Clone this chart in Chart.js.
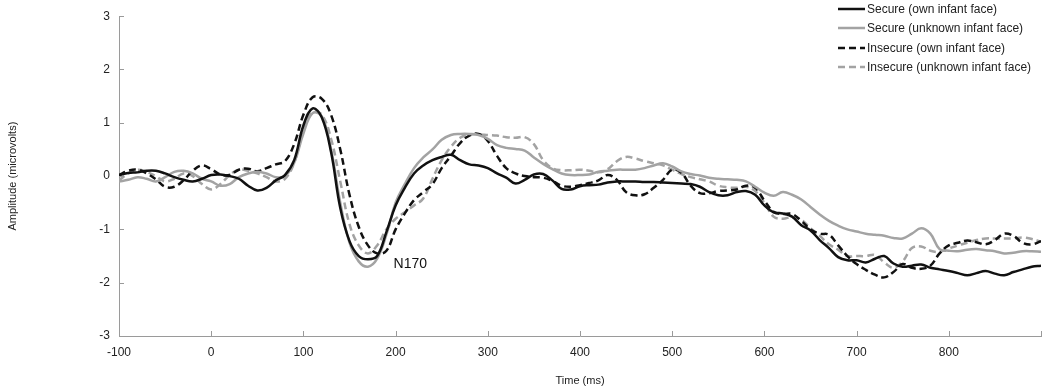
<!DOCTYPE html>
<html>
<head>
<meta charset="utf-8">
<title>ERP waveforms</title>
<script src="https://cdn.jsdelivr.net/npm/chart.js@4"></script>
<style>
  body { margin: 0; background: #fff; }
  #wrap { width: 1050px; height: 389px; }
</style>
</head>
<body>
<div id="wrap"><canvas id="erpChart" width="1050" height="389"></canvas></div>
<script>
// time points (ms)
const times = [-100,-90,-80,-70,-60,-50,-40,-30,-20,-10,
  0,10,20,30,40,50,60,70,80,90,
  100,110,120,130,140,150,160,170,180,190,
  200,210,220,230,240,250,260,270,280,290,
  300,310,320,330,340,350,360,370,380,390,
  400,410,420,430,440,450,460,470,480,490,
  500,510,520,530,540,550,560,570,580,590,
  600,610,620,630,640,650,660,670,680,690,
  700,710,720,730,740,750,760,770,780,790,
  800,810,820,830,840,850,860,870,880,890,900];

// amplitude (microvolts)
const secureOwn = [0.02,0.06,0.07,0.1,0.1,0.05,-0.02,-0.07,-0.1,-0.05,
  0.02,0.03,0.0,-0.05,-0.18,-0.27,-0.22,-0.08,0.02,0.3,
  0.95,1.27,1.1,0.45,-0.6,-1.22,-1.5,-1.56,-1.5,-1.05,
  -0.55,-0.22,0.05,0.2,0.3,0.36,0.4,0.3,0.22,0.2,
  0.15,0.05,-0.03,-0.14,-0.07,0.03,0.04,-0.08,-0.24,-0.25,
  -0.19,-0.17,-0.16,-0.12,-0.1,-0.1,-0.1,-0.11,-0.11,-0.12,
  -0.13,-0.14,-0.15,-0.2,-0.3,-0.36,-0.36,-0.3,-0.28,-0.35,
  -0.55,-0.68,-0.7,-0.76,-0.92,-1.02,-1.2,-1.35,-1.52,-1.58,
  -1.58,-1.62,-1.55,-1.5,-1.64,-1.7,-1.68,-1.66,-1.72,-1.75,
  -1.78,-1.82,-1.86,-1.82,-1.78,-1.83,-1.86,-1.8,-1.75,-1.7,-1.68];

const secureUnknown = [-0.1,-0.07,-0.02,-0.05,-0.1,-0.02,0.08,0.1,0.05,-0.05,
  -0.1,-0.18,-0.15,-0.02,0.05,0.08,0.05,-0.02,0.0,0.25,
  0.8,1.18,1.12,0.5,-0.5,-1.25,-1.6,-1.7,-1.55,-1.1,
  -0.5,-0.15,0.15,0.35,0.5,0.68,0.77,0.79,0.79,0.77,
  0.7,0.58,0.53,0.51,0.48,0.35,0.23,0.13,0.05,0.02,
  0.02,0.03,0.08,0.1,0.12,0.12,0.12,0.15,0.2,0.24,
  0.18,0.09,0.04,0.01,-0.03,-0.05,-0.06,-0.07,-0.1,-0.2,
  -0.31,-0.37,-0.3,-0.35,-0.44,-0.58,-0.72,-0.84,-0.93,-1.0,
  -1.04,-1.08,-1.1,-1.12,-1.16,-1.17,-1.08,-0.98,-1.08,-1.37,
  -1.4,-1.41,-1.38,-1.37,-1.39,-1.41,-1.45,-1.44,-1.41,-1.41,-1.42];

const insecureOwn = [0.02,0.1,0.12,0.05,-0.06,-0.2,-0.2,-0.08,0.1,0.2,
  0.13,0.03,0.02,0.12,0.14,0.09,0.15,0.22,0.28,0.6,
  1.15,1.48,1.45,1.15,0.5,-0.35,-0.95,-1.3,-1.45,-1.4,
  -1.0,-0.7,-0.45,-0.3,-0.15,0.15,0.38,0.62,0.76,0.79,
  0.66,0.38,0.15,0.05,0.0,-0.02,-0.03,-0.09,-0.18,-0.2,
  -0.17,-0.13,-0.08,0.02,-0.07,-0.3,-0.36,-0.34,-0.22,-0.07,
  0.12,0.06,-0.18,-0.32,-0.32,-0.28,-0.27,-0.25,-0.18,-0.22,
  -0.46,-0.67,-0.71,-0.71,-0.84,-1.0,-1.08,-1.1,-1.3,-1.5,
  -1.65,-1.76,-1.85,-1.9,-1.8,-1.65,-1.72,-1.74,-1.68,-1.45,
  -1.3,-1.25,-1.21,-1.24,-1.28,-1.2,-1.08,-1.12,-1.25,-1.28,-1.22];

const insecureUnknown = [-0.08,0.05,0.12,0.08,0.0,-0.1,-0.05,0.05,0.0,-0.15,
  -0.25,-0.15,0.02,0.12,0.1,0.05,-0.02,-0.1,-0.05,0.25,
  0.85,1.2,1.15,0.7,-0.1,-0.9,-1.3,-1.45,-1.3,-1.0,
  -0.8,-0.68,-0.55,-0.42,-0.05,0.3,0.55,0.72,0.78,0.78,
  0.77,0.76,0.73,0.72,0.73,0.6,0.3,0.15,0.11,0.11,
  0.12,0.1,0.07,0.13,0.28,0.36,0.33,0.28,0.24,0.2,
  0.12,0.04,-0.02,-0.06,-0.1,-0.18,-0.21,-0.22,-0.2,-0.28,
  -0.5,-0.76,-0.8,-0.77,-0.82,-0.98,-1.12,-1.28,-1.38,-1.5,
  -1.5,-1.5,-1.48,-1.62,-1.72,-1.6,-1.35,-1.32,-1.4,-1.42,
  -1.36,-1.3,-1.25,-1.2,-1.17,-1.17,-1.17,-1.17,-1.15,-1.18,-1.23];

const seriesNames = [
  'Secure (own infant face)',
  'Secure (unknown infant face)',
  'Insecure (own infant face)',
  'Insecure (unknown infant face)'
];

const peakLabel = { text: 'N170', time: 200, amp: -1.6 };

const BLACK = '#111111';
const GRAY = '#a3a3a3';
const AXIS = '#9a9a9a';
const FONT = '"Liberation Sans", Arial, sans-serif';

function toPoints(vals) {
  return times.map((t, i) => ({ x: t, y: vals[i] }));
}

// inward tick marks, the N170 label and the legend box
const decorations = {
  id: 'decorations',
  afterDraw(chart) {
    const ctx = chart.ctx;
    const xs = chart.scales.x, ys = chart.scales.y;
    const area = chart.chartArea;
    ctx.save();
    ctx.strokeStyle = AXIS;
    ctx.lineWidth = 1;
    ctx.beginPath();
    xs.ticks.forEach(tk => {
      const px = Math.round(xs.getPixelForValue(tk.value)) + 0.5;
      ctx.moveTo(px, area.bottom);
      ctx.lineTo(px, area.bottom - 5);
    });
    ys.ticks.forEach(tk => {
      const py = Math.round(ys.getPixelForValue(tk.value)) + 0.5;
      ctx.moveTo(area.left, py);
      ctx.lineTo(area.left + 5, py);
    });
    ctx.stroke();

    // N170 annotation
    ctx.fillStyle = '#111';
    ctx.font = '14px ' + FONT;
    ctx.textBaseline = 'middle';
    ctx.textAlign = 'left';
    ctx.fillText(peakLabel.text, xs.getPixelForValue(peakLabel.time) - 2, ys.getPixelForValue(peakLabel.amp) + 3);

    // legend
    const lx = 838, lw = 27, tx = 867;
    const rows = [9, 28, 48, 67];
    ctx.font = '12px ' + FONT;
    chart.data.datasets.forEach((ds, i) => {
      ctx.strokeStyle = ds.borderColor;
      ctx.lineWidth = ds.borderWidth;
      ctx.setLineDash(ds.borderDash || []);
      ctx.beginPath();
      ctx.moveTo(lx, rows[i]);
      ctx.lineTo(lx + lw, rows[i]);
      ctx.stroke();
      ctx.setLineDash([]);
      ctx.fillStyle = '#222';
      ctx.fillText(ds.label, tx, rows[i] + 1);
    });
    ctx.restore();
  }
};

new Chart(document.getElementById('erpChart'), {
  type: 'line',
  data: {
    datasets: [
      { label: seriesNames[0], data: toPoints(secureOwn), borderColor: BLACK, borderWidth: 2.5 },
      { label: seriesNames[1], data: toPoints(secureUnknown), borderColor: GRAY, borderWidth: 2.5 },
      { label: seriesNames[2], data: toPoints(insecureOwn), borderColor: BLACK, borderWidth: 2.5, borderDash: [7, 4] },
      { label: seriesNames[3], data: toPoints(insecureUnknown), borderColor: GRAY, borderWidth: 2.5, borderDash: [7, 4] }
    ]
  },
  options: {
    responsive: false,
    animation: false,
    layout: { padding: { top: 9, right: 6, left: 0, bottom: 0 } },
    elements: {
      point: { radius: 0 },
      line: { tension: 0.4, fill: false }
    },
    plugins: {
      legend: { display: false },
      tooltip: { enabled: false }
    },
    scales: {
      x: {
        type: 'linear',
        min: -100,
        max: 900,
        afterFit: s => { s.height = 53; },
        grid: { display: true, drawOnChartArea: false, drawTicks: false, color: AXIS },
        border: { color: AXIS, width: 1 },
        ticks: {
          stepSize: 100,
          padding: 9,
          color: '#222',
          font: { family: FONT, size: 12 },
          maxRotation: 0,
          callback: v => (v === 900 ? '' : v)
        },
        title: {
          display: true,
          text: 'Time (ms)',
          color: '#222',
          font: { family: FONT, size: 11 },
          padding: { top: 0, bottom: 1 }
        }
      },
      y: {
        min: -3,
        max: 3,
        afterFit: s => { s.width = 119; },
        grid: { display: true, drawOnChartArea: false, drawTicks: false, color: AXIS },
        border: { color: AXIS, width: 1 },
        ticks: {
          stepSize: 1,
          padding: 9,
          color: '#222',
          font: { family: FONT, size: 12 }
        },
        title: {
          display: true,
          text: 'Amplitude (microvolts)',
          color: '#222',
          font: { family: FONT, size: 11 },
          padding: { top: 6, bottom: 0 }
        }
      }
    }
  },
  plugins: [decorations]
});
</script>
</body>
</html>
